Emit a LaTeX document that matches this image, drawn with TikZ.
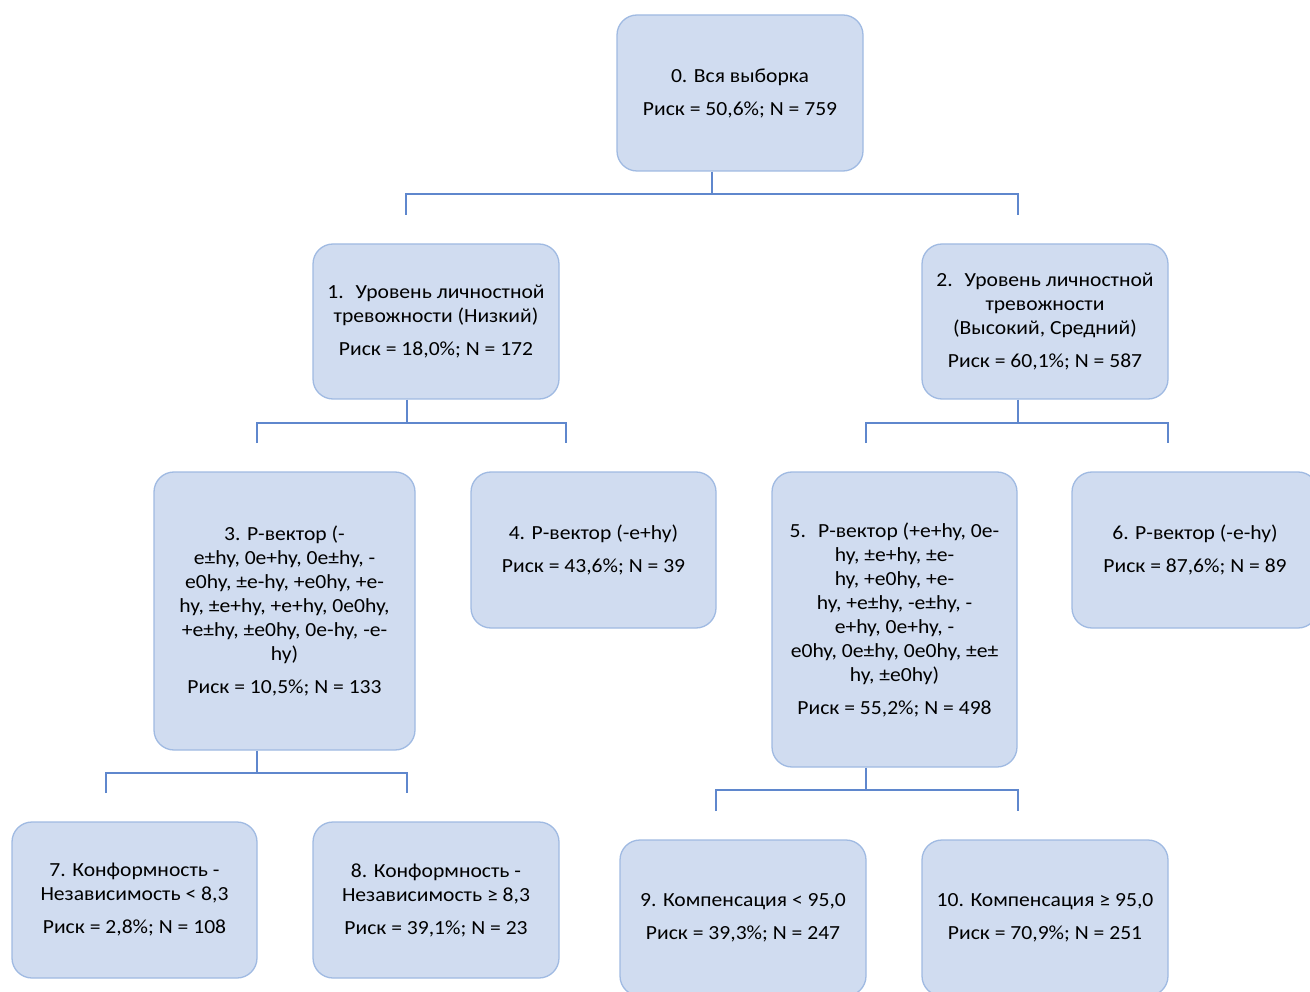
\documentclass[tikz,border=0pt]{standalone}
\usepackage{fontspec}
\setmainfont[FakeStretch=1.08]{Carlito}
\definecolor{boxfill}{RGB}{208,220,240}
\definecolor{boxborder}{RGB}{160,186,226}
\definecolor{linkc}{RGB}{95,135,205}
\tikzset{
  box/.style={draw=boxborder, line width=1.3pt, fill=boxfill, rounded corners=20pt,
    minimum width=246pt, minimum height=156pt, align=center, inner sep=0pt,
    font=\fontsize{20}{24}\selectfont},
  link/.style={draw=linkc, line width=2pt}
}
\newcommand{\pgap}{\\[9pt]}
\begin{document}
\begin{tikzpicture}[x=1pt,y=-1pt]
\useasboundingbox (0,0) rectangle (1310,992);
\clip (0,0) rectangle (1310,992);
\node[box] (n0) at (740,93) {0. Вся выборка\pgap Риск = 50,6\%; N = 759};
\node[box, minimum height=155pt] (n1) at (436,321.5) {1.\hspace{0.6em}Уровень личностной\\тревожности (Низкий)\pgap Риск = 18,0\%; N = 172};
\node[box, minimum height=155pt] (n2) at (1045,321.5) {2.\hspace{0.6em}Уровень личностной\\тревожности\\(Высокий, Средний)\pgap Риск = 60,1\%; N = 587};
\node[box, minimum width=261pt, minimum height=278pt] (n3) at (284.5,611) {3. Р-вектор (-\\e±hy, 0e+hy, 0e±hy, -\\e0hy, ±e-hy, +e0hy, +e-\\hy, ±e+hy, +e+hy, 0e0hy,\\+e±hy, ±e0hy, 0e-hy, -e-\\hy)\pgap Риск = 10,5\%; N = 133};
\node[box, minimum width=245pt] (n4) at (593.5,550) {4. Р-вектор (-e+hy)\pgap Риск = 43,6\%; N = 39};
\node[box, minimum width=245pt, minimum height=295pt] (n5) at (894.5,619.5) {5.\hspace{0.6em}Р-вектор (+e+hy, 0e-\\hy, ±e+hy, ±e-\\hy, +e0hy, +e-\\hy, +e±hy, -e±hy, -\\e+hy, 0e+hy, -\\e0hy, 0e±hy, 0e0hy, ±e±\\hy, ±e0hy)\pgap Риск = 55,2\%; N = 498};
\node[box] (n6) at (1195,550) {6. Р-вектор (-e-hy)\pgap Риск = 87,6\%; N = 89};
\node[box, minimum width=245pt] (n7) at (134.5,900) {7. Конформность -\\Независимость < 8,3\pgap Риск = 2,8\%; N = 108};
\node[box] (n8) at (436,900) {8. Конформность -\\Независимость ≥ 8,3\pgap Риск = 39,1\%; N = 23};
\node[box] (n9) at (743,918) {9. Компенсация < 95,0\pgap Риск = 39,3\%; N = 247};
\node[box] (n10) at (1045,918) {10. Компенсация ≥ 95,0\pgap Риск = 70,9\%; N = 251};
% level 0
\coordinate (j0) at (712,194);
\coordinate (a1) at (406,215);
\coordinate (a2) at (1018,215);
\draw[link] (n0.south -| j0) -- (j0);
\draw[link] (a1) |- (j0) -| (a2);
% level 1 left
\coordinate (j1) at (407,423);
\coordinate (b3) at (257,443);
\coordinate (b4) at (566,443);
\draw[link] (n1.south -| j1) -- (j1);
\draw[link] (b3) |- (j1) -| (b4);
% level 1 right
\coordinate (j2) at (1018,423);
\coordinate (c5) at (866,443);
\coordinate (c6) at (1168,443);
\draw[link] (n2.south -| j2) -- (j2);
\draw[link] (c5) |- (j2) -| (c6);
% level 2 left
\coordinate (j3) at (257,773);
\coordinate (d7) at (106,793);
\coordinate (d8) at (407,793);
\draw[link] (n3.south -| j3) -- (j3);
\draw[link] (d7) |- (j3) -| (d8);
% level 2 right
\coordinate (j5) at (866,790);
\coordinate (e9) at (716,811);
\coordinate (e10) at (1018,811);
\draw[link] (n5.south -| j5) -- (j5);
\draw[link] (e9) |- (j5) -| (e10);
\end{tikzpicture}
\end{document}
